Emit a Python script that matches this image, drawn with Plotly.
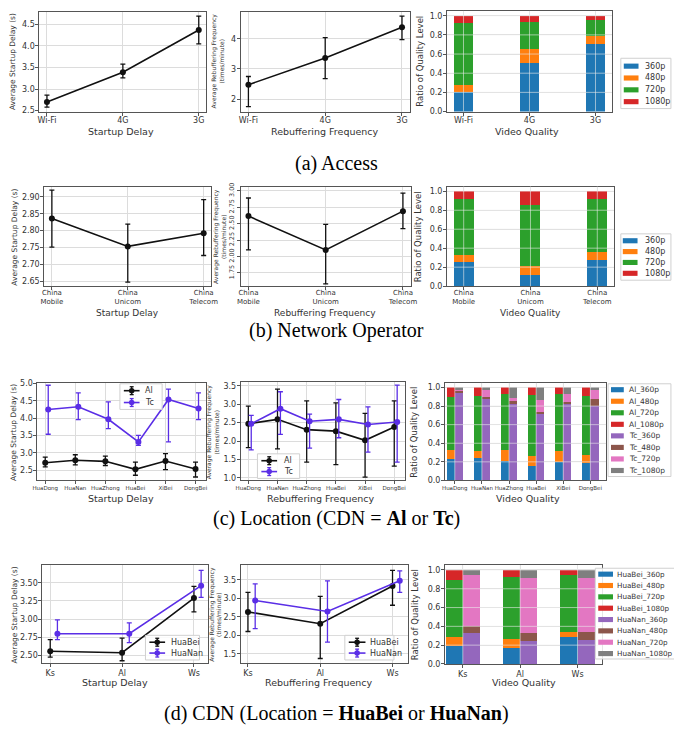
import numpy as np
import plotly.graph_objects as go

W, H = 674, 736

# ---------------- data ----------------
quality_levels = ["360p", "480p", "720p", "1080p"]

access_labels = ["Wi-Fi", "4G", "3G"]
access_delay_mean = [2.70, 3.39, 4.37]
access_delay_low = [2.58, 3.26, 4.05]
access_delay_high = [2.86, 3.58, 4.69]
access_rebuf_mean = [2.48, 3.36, 4.38]
access_rebuf_low = [1.75, 2.68, 3.97]
access_rebuf_high = [2.75, 4.04, 4.75]
access_q360 = [0.20, 0.51, 0.70]
access_q480 = [0.08, 0.14, 0.085]
access_q720 = [0.64, 0.28, 0.17]
access_q1080 = [0.08, 0.07, 0.045]

operator_labels = ["China<br>Mobile", "China<br>Unicom", "China<br>Telecom"]
operator_delay_mean = [2.836, 2.753, 2.792]
operator_delay_low = [2.751, 2.647, 2.726]
operator_delay_high = [2.920, 2.819, 2.892]
operator_rebuf_mean = [2.615, 2.10, 2.69]
operator_rebuf_low = [2.10, 1.585, 2.425]
operator_rebuf_high = [2.89, 2.49, 2.965]
operator_q360 = [0.25, 0.12, 0.28]
operator_q480 = [0.08, 0.09, 0.085]
operator_q720 = [0.59, 0.65, 0.555]
operator_q1080 = [0.08, 0.14, 0.08]

location_labels = ["HuaDong", "HuaNan", "HuaZhong", "HuaBei", "XiBei", "DongBei"]
al_delay_mean = [2.72, 2.79, 2.76, 2.53, 2.77, 2.54]
al_delay_low = [2.60, 2.66, 2.64, 2.36, 2.52, 2.31]
al_delay_high = [2.88, 2.95, 2.91, 2.74, 2.98, 2.74]
tc_delay_mean = [4.25, 4.33, 3.97, 3.32, 4.54, 4.28]
tc_delay_low = [3.54, 3.96, 3.70, 3.22, 3.32, 3.96]
tc_delay_high = [4.95, 4.73, 4.47, 3.51, 4.84, 4.73]
al_rebuf_mean = [2.47, 2.59, 2.31, 2.27, 2.02, 2.38]
al_rebuf_low = [1.82, 1.79, 1.43, 1.36, 1.02, 1.32]
al_rebuf_high = [2.95, 3.41, 3.09, 3.04, 2.75, 3.09]
tc_rebuf_mean = [2.47, 2.88, 2.54, 2.59, 2.45, 2.52]
tc_rebuf_low = [1.76, 2.18, 1.81, 2.09, 1.70, 1.43]
tc_rebuf_high = [2.70, 3.34, 2.73, 3.13, 2.93, 3.52]
al_q360 = [0.23, 0.24, 0.21, 0.16, 0.20, 0.185]
al_q480 = [0.10, 0.08, 0.12, 0.10, 0.12, 0.09]
al_q720 = [0.57, 0.59, 0.60, 0.655, 0.61, 0.635]
al_q1080 = [0.10, 0.09, 0.07, 0.085, 0.07, 0.09]
tc_q360 = [0.95, 0.88, 0.83, 0.72, 0.825, 0.80]
tc_q480 = [0.015, 0.02, 0.02, 0.02, 0.015, 0.08]
tc_q720 = [0.005, 0.07, 0.04, 0.13, 0.09, 0.10]
tc_q1080 = [0.03, 0.03, 0.11, 0.13, 0.07, 0.02]

cdn_labels = ["Ks", "Al", "Ws"]
huabei_delay_mean = [2.56, 2.54, 3.29]
huabei_delay_low = [2.48, 2.43, 3.10]
huabei_delay_high = [2.72, 2.74, 3.45]
huanan_delay_mean = [2.80, 2.80, 3.46]
huanan_delay_low = [2.72, 2.68, 3.30]
huanan_delay_high = [2.99, 2.95, 3.67]
huabei_rebuf_mean = [2.63, 2.31, 3.33]
huabei_rebuf_low = [2.10, 1.37, 2.81]
huabei_rebuf_high = [3.16, 3.05, 3.75]
huanan_rebuf_mean = [2.94, 2.64, 3.47]
huanan_rebuf_low = [2.18, 1.81, 3.16]
huanan_rebuf_high = [3.39, 3.47, 3.74]
huabei_q360 = [0.19, 0.17, 0.29]
huabei_q480 = [0.10, 0.095, 0.055]
huabei_q720 = [0.60, 0.655, 0.60]
huabei_q1080 = [0.11, 0.08, 0.055]
huanan_q360 = [0.33, 0.24, 0.25]
huanan_q480 = [0.07, 0.09, 0.085]
huanan_q720 = [0.55, 0.58, 0.575]
huanan_q1080 = [0.05, 0.09, 0.09]

captions = ["(a) Access", "(b) Network Operator",
            "(c) Location (CDN = <b>Al</b> or <b>Tc</b>)",
            "(d) CDN (Location = <b>HuaBei</b> or <b>HuaNan</b>)"]

# ---------------- styling ----------------
TXT = "#333333"
GRID = "#dcdcdc"
FRAME = "#555555"
BLACK = "#111111"
VIOLET = "#5a2ee6"
Q_A = ["#1f77b4", "#ff7f0e", "#2ca02c", "#d62728"]
Q_B = ["#9467bd", "#8c564b", "#e377c2", "#7f7f7f"]

fig = go.Figure()
axes_layout = {}
annots = []
shapes = []


def px_x(v):
    return v / W


def px_y(v):
    return 1 - v / H


def sfx(k):
    return "" if k == 1 else str(k)


def make_axes(k, box, xr, yr, xt, xl, yt, yfmt, xfs=8, yfs=8, yangle=0,
              xstand=-2, ystand=-1):
    l, t, r, b = box
    s = sfx(k)
    axes_layout["xaxis" + s] = dict(
        domain=[px_x(l), px_x(r)], range=xr, anchor="y" + s,
        tickmode="array", tickvals=xt, ticktext=xl, tickangle=0,
        showgrid=True, gridcolor=GRID, gridwidth=0.8,
        showline=True, mirror=True, linecolor=FRAME, linewidth=1,
        ticks="outside", ticklen=3, tickcolor=FRAME, ticklabelstandoff=xstand,
        tickfont=dict(size=xfs, color=TXT), zeroline=False, fixedrange=True)
    axes_layout["yaxis" + s] = dict(
        domain=[px_y(b), px_y(t)], range=yr, anchor="x" + s,
        tickmode="array", tickvals=yt, ticktext=[format(v, yfmt) for v in yt],
        showgrid=True, gridcolor=GRID, gridwidth=0.8,
        showline=True, mirror=True, linecolor=FRAME, linewidth=1,
        ticks="outside", ticklen=3, tickcolor=FRAME, tickangle=yangle,
        ticklabelstandoff=ystand,
        tickfont=dict(size=yfs, color=TXT), zeroline=False, fixedrange=True)


def line_series(k, x, mean, low, high, color, name):
    mean = np.array(mean)
    s = sfx(k)
    fig.add_trace(go.Scatter(
        x=x, y=mean, mode="lines+markers", name=name,
        line=dict(color=color, width=1.6), marker=dict(color=color, size=6),
        error_y=dict(type="data", symmetric=False,
                     array=np.array(high) - mean, arrayminus=mean - np.array(low),
                     color=color, thickness=1.3, width=2.5),
        xaxis="x" + s, yaxis="y" + s, showlegend=False))


def bar_stack(k, x, series, colors, names, width=0.3):
    s = sfx(k)
    for vals, c, n in zip(series, colors, names):
        fig.add_trace(go.Bar(x=x, y=vals, width=width, name=n,
                             marker=dict(color=c, line=dict(width=0)),
                             xaxis="x" + s, yaxis="y" + s, showlegend=False))


def grid_above(k, xt, yt):
    s = sfx(k)
    for v in xt:
        shapes.append(dict(type="line", xref="x" + s, yref="y" + s + " domain",
                           x0=v, x1=v, y0=0, y1=1, layer="above",
                           line=dict(color="rgba(235,235,235,0.75)", width=0.8)))
    for v in yt[1:]:
        shapes.append(dict(type="line", xref="x" + s + " domain", yref="y" + s,
                           x0=0, x1=1, y0=v, y1=v, layer="above",
                           line=dict(color="rgba(235,235,235,0.75)", width=0.8)))


def text(x, y, s, size, angle=0, family="DejaVu Sans", color=TXT, anchor="center"):
    annots.append(dict(x=px_x(x), y=px_y(y), xref="paper", yref="paper", text=s,
                       showarrow=False, textangle=angle, xanchor=anchor, yanchor="middle",
                       font=dict(size=size, family=family, color=color)))


def legend_box(l, t, r, b):
    shapes.append(dict(type="rect", xref="paper", yref="paper",
                       x0=px_x(l), x1=px_x(r), y0=px_y(b), y1=px_y(t), layer="above",
                       line=dict(color="#d0d0d0", width=1),
                       fillcolor="rgba(255,255,255,0.85)"))


def bar_legend(box, names, colors, ys, sw, tx, size=8):
    legend_box(*box)
    for n, c, y in zip(names, colors, ys):
        shapes.append(dict(type="rect", xref="paper", yref="paper",
                           x0=px_x(sw[0]), x1=px_x(sw[1]), y0=px_y(y + 2.6), y1=px_y(y - 2.6),
                           layer="above", line=dict(width=0), fillcolor=c))
        text(tx, y, n, size, anchor="left")


def line_legend(box, names, colors, ys, hx, tx, size=8):
    legend_box(*box)
    for n, c, y in zip(names, colors, ys):
        xm = (hx[0] + hx[1]) / 2
        shapes.append(dict(type="line", xref="paper", yref="paper", layer="above",
                           x0=px_x(hx[0]), x1=px_x(hx[1]), y0=px_y(y), y1=px_y(y),
                           line=dict(color=c, width=1.6)))
        shapes.append(dict(type="line", xref="paper", yref="paper", layer="above",
                           x0=px_x(xm), x1=px_x(xm), y0=px_y(y - 4), y1=px_y(y + 4),
                           line=dict(color=c, width=1.3)))
        for dy in (-4, 4):
            shapes.append(dict(type="line", xref="paper", yref="paper", layer="above",
                               x0=px_x(xm - 2), x1=px_x(xm + 2), y0=px_y(y + dy), y1=px_y(y + dy),
                               line=dict(color=c, width=1.3)))
        shapes.append(dict(type="circle", xref="paper", yref="paper", layer="above",
                           x0=px_x(xm - 2.8), x1=px_x(xm + 2.8), y0=px_y(y + 2.8), y1=px_y(y - 2.8),
                           line=dict(width=0), fillcolor=c))
        text(tx, y, n, size, anchor="left")


ratio_ticks = [0.0, 0.2, 0.4, 0.6, 0.8, 1.0]
YL_DELAY = "Average Startup Delay (s)"
YL_REBUF = "Average Rebuffering Frequency<br>(times/minute)"
YL_RATIO = "Ratio of Quality Level"

# ---------------- row (a) ----------------
xa = np.arange(len(access_labels))
make_axes(1, (35, 7, 205, 108), [-0.1, 2.1], [2.48, 4.79], xa, access_labels,
          [2.5, 3.0, 3.5, 4.0, 4.5], ".1f")
line_series(1, xa, access_delay_mean, access_delay_low, access_delay_high, BLACK, "delay")
make_axes(2, (240, 7, 412, 108), [-0.1, 2.1], [1.59, 4.89], xa, access_labels,
          [2, 3, 4], "g")
line_series(2, xa, access_rebuf_mean, access_rebuf_low, access_rebuf_high, BLACK, "rebuf")
make_axes(3, (450, 6, 618, 108), [-0.25, 2.25], [0, 1.05], xa, access_labels,
          ratio_ticks, ".1f")
bar_stack(3, xa, [access_q360, access_q480, access_q720, access_q1080], Q_A, quality_levels)
grid_above(3, xa, ratio_ticks)
bar_legend((627, 54, 678, 105), quality_levels, Q_A, [62, 74, 86, 98], (630, 645), 650)

text(7, 57, YL_DELAY, 7.5, -90)
text(216, 57, YL_REBUF, 6, -90)
text(423, 57, YL_RATIO, 8.5, -90)
text(118, 128, "Startup Delay", 9.5)
text(326, 128, "Rebuffering Frequency", 9.5)
text(531, 128, "Video Quality", 9.5)

# ---------------- row (b) ----------------
xb = np.arange(len(operator_labels))
make_axes(4, (40, 184, 210, 285), [-0.1, 2.1], [2.635, 2.931], xb, operator_labels,
          [2.65, 2.70, 2.75, 2.80, 2.85, 2.90], ".2f", xfs=7, xstand=-4)
line_series(4, xb, operator_delay_mean, operator_delay_low, operator_delay_high, BLACK, "delay")
make_axes(5, (240, 185, 413, 285), [-0.1, 2.1], [1.55, 3.05], xb, operator_labels,
          [1.75, 2.00, 2.25, 2.50, 2.75, 3.00], ".2f", xfs=7, yfs=6.5, yangle=-90,
          xstand=-4, ystand=0)
line_series(5, xb, operator_rebuf_mean, operator_rebuf_low, operator_rebuf_high, BLACK, "rebuf")
make_axes(6, (450, 184, 620, 285), [-0.25, 2.25], [0, 1.05], xb, operator_labels,
          ratio_ticks, ".1f", xfs=7, xstand=-4)
bar_stack(6, xb, [operator_q360, operator_q480, operator_q720, operator_q1080], Q_A, quality_levels)
grid_above(6, xb, ratio_ticks)
bar_legend((627, 232, 678, 279), quality_levels, Q_A, [239, 250, 261, 272], (629, 644), 650)

text(10, 235, YL_DELAY, 7.5, -90)
text(219, 235, YL_REBUF, 6, -90)
text(420, 235, YL_RATIO, 8.5, -90)
text(125, 312, "Startup Delay", 9)
text(326, 312, "Rebuffering Frequency", 9)
text(535, 312, "Video Quality", 9)

# ---------------- row (c) ----------------
xc = np.arange(len(location_labels))
make_axes(7, (33, 383, 205, 482), [-0.26, 5.36], [2.21, 5.02], xc, location_labels,
          [2.5, 3.0, 3.5, 4.0, 4.5, 5.0], ".1f", xfs=5.5, xstand=-1)
line_series(7, xc, al_delay_mean, al_delay_low, al_delay_high, BLACK, "Al")
line_series(7, xc + 0.1, tc_delay_mean, tc_delay_low, tc_delay_high, VIOLET, "Tc")
line_legend((117, 384, 160, 410), ["Al", "Tc"], [BLACK, VIOLET], [391, 403], (121, 137), 141)

make_axes(8, (240, 382, 407, 482), [-0.26, 5.36], [0.93, 3.61], xc, location_labels,
          [1.0, 1.5, 2.0, 2.5, 3.0, 3.5], ".1f", xfs=5.5, xstand=-1)
line_series(8, xc, al_rebuf_mean, al_rebuf_low, al_rebuf_high, BLACK, "Al")
line_series(8, xc + 0.1, tc_rebuf_mean, tc_rebuf_low, tc_rebuf_high, VIOLET, "Tc")
line_legend((257, 455, 300, 480), ["Al", "Tc"], [BLACK, VIOLET], [462, 473], (261, 277), 282)

make_axes(9, (448, 383, 612, 482), [-0.36, 5.58], [0, 1.05], xc, location_labels,
          ratio_ticks, ".1f", xfs=5.5, xstand=-1)
bar_stack(9, xc - 0.15, [al_q360, al_q480, al_q720, al_q1080], Q_A,
          ["Al_" + q for q in quality_levels])
bar_stack(9, xc + 0.15, [tc_q360, tc_q480, tc_q720, tc_q1080], Q_B,
          ["Tc_" + q for q in quality_levels])
grid_above(9, xc, ratio_ticks)
bar_legend((614, 384, 678, 478),
           ["Al_" + q for q in quality_levels] + ["Tc_" + q for q in quality_levels],
           Q_A + Q_B, [390, 401.7, 413.4, 425.1, 436.8, 448.5, 460.2, 471.9], (617, 630), 633, 7.5)

text(8, 433, YL_DELAY, 7.5, -90)
text(211, 433, YL_REBUF, 6, -90)
text(417, 433, YL_RATIO, 8.5, -90)
text(118, 500, "Startup Delay", 9.5)
text(322, 500, "Rebuffering Frequency", 9.5)
text(532, 500, "Video Quality", 9.5)

# ---------------- row (d) ----------------
xd = np.arange(len(cdn_labels))
make_axes(10, (38, 568, 207, 667), [-0.11, 2.2], [2.40, 3.74], xd, cdn_labels,
          [2.50, 2.75, 3.00, 3.25, 3.50], ".2f", xstand=-1)
line_series(10, xd, huabei_delay_mean, huabei_delay_low, huabei_delay_high, BLACK, "HuaBei")
line_series(10, xd + 0.1, huanan_delay_mean, huanan_delay_low, huanan_delay_high, VIOLET, "HuaNan")
line_legend((143, 639, 198, 664), ["HuaBei", "HuaNan"], [BLACK, VIOLET], [646, 657], (147, 163), 167)

make_axes(11, (240, 568, 410, 667), [-0.1, 2.21], [1.25, 3.89], xd, cdn_labels,
          [1.5, 2.0, 2.5, 3.0, 3.5], ".1f", xstand=-1)
line_series(11, xd, huabei_rebuf_mean, huabei_rebuf_low, huabei_rebuf_high, BLACK, "HuaBei")
line_series(11, xd + 0.1, huanan_rebuf_mean, huanan_rebuf_low, huanan_rebuf_high, VIOLET, "HuaNan")
line_legend((346, 639, 396, 664), ["HuaBei", "HuaNan"], [BLACK, VIOLET], [646, 657], (350, 367), 370)

make_axes(12, (448, 568, 608, 668), [-0.31, 2.43], [0, 1.05], xd, cdn_labels,
          ratio_ticks, ".1f", xstand=-1)
bar_stack(12, xd - 0.15, [huabei_q360, huabei_q480, huabei_q720, huabei_q1080], Q_A,
          ["HuaBei_" + q for q in quality_levels])
bar_stack(12, xd + 0.15, [huanan_q360, huanan_q480, huanan_q720, huanan_q1080], Q_B,
          ["HuaNan_" + q for q in quality_levels])
grid_above(12, xd, ratio_ticks)
bar_legend((601, 571, 682, 663),
           ["HuaBei_" + q for q in quality_levels] + ["HuaNan_" + q for q in quality_levels],
           Q_A + Q_B, [577, 588.5, 600, 611.5, 623, 634.5, 646, 657.5], (604, 619), 621, 7.2)

text(10, 618, YL_DELAY, 7.5, -90)
text(214, 618, YL_REBUF, 6, -90)
text(417, 618, YL_RATIO, 8.5, -90)
text(112, 687, "Startup Delay", 9.5)
text(320, 687, "Rebuffering Frequency", 9.5)
text(528, 687, "Video Quality", 9.5)

# ---------------- captions ----------------
for cap, y in zip(captions, [161, 330, 521, 718]):
    text(337, y, cap, 20, family="Liberation Serif", color="#000000")

fig.update_layout(width=W, height=H, margin=dict(l=0, r=0, t=0, b=0),
                  paper_bgcolor="white", plot_bgcolor="white", barmode="stack",
                  showlegend=False, font=dict(family="DejaVu Sans", color=TXT),
                  annotations=annots, shapes=shapes, **axes_layout)
fig.write_html("out.html", config={"displayModeBar": False},
               post_script="document.body.style.margin='0';document.body.style.overflow='hidden';")
